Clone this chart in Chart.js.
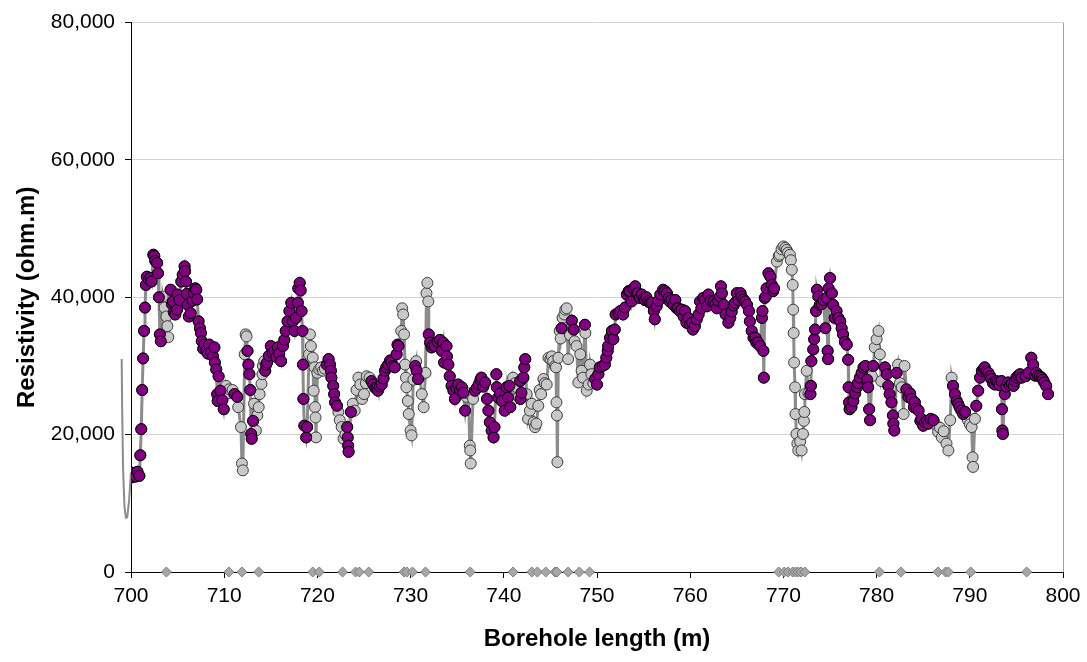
<!DOCTYPE html>
<html>
<head>
<meta charset="utf-8">
<script src="https://cdn.jsdelivr.net/npm/chart.js@4.4.1/dist/chart.umd.min.js"></script>
<style>
  html, body { margin: 0; padding: 0; background: #ffffff; }
  #wrap { width: 1087px; height: 662px; }
</style>
</head>
<body>
<div id="wrap"><canvas id="c" width="1087" height="662"></canvas></div>
<script>
// Borehole length (m)
const depthM = [
700.0,700.1,700.3,700.5,700.7,700.9,701.0,701.1,701.2,701.3,701.4,701.5,701.6,701.7,701.9,702.1,702.2,702.4,702.5,702.6,702.8,702.9,703.0,703.1,703.2,
703.4,703.6,703.8,703.9,704.0,704.25,704.4,704.5,704.6,704.75,704.95,705.0,705.2,705.4,705.55,705.75,705.8,705.9,706.0,706.1,706.2,706.4,706.6,706.75,706.9,
707.0,707.1,707.25,707.4,707.5,707.6,707.75,707.9,708.1,708.25,708.4,708.6,708.8,708.95,709.0,709.15,709.25,709.3,709.4,709.6,709.8,709.95,
710.2,710.4,710.55,710.9,711.1,711.3,711.4,711.5,711.8,711.9,712.0,712.2,712.3,712.4,712.5,712.6,712.7,712.8,712.9,712.95,713.1,713.2,713.4,713.55,713.7,713.8,
714.0,714.1,714.15,714.3,714.4,714.5,714.6,714.8,715.0,715.2,715.4,715.6,715.75,715.9,716.1,716.3,716.45,716.6,716.8,717.0,717.2,717.35,717.55,717.7,717.9,717.95,
718.1,718.2,718.3,718.4,718.45,718.5,718.6,718.8,718.9,719.1,719.2,719.3,719.5,719.6,719.7,719.75,719.8,719.85,
720.0,720.2,720.4,720.6,720.8,721.0,721.2,721.35,721.45,721.5,721.7,721.8,721.9,722.1,722.25,722.4,722.6,722.8,723.0,723.2,723.25,723.3,723.35,723.6,723.8,
724.0,724.2,724.4,724.6,724.8,725.0,725.2,725.3,725.6,725.8,726.0,726.2,726.4,726.5,726.7,726.9,727.1,727.25,727.4,727.6,727.8,727.95,728.1,728.3,728.5,728.6,728.7,
729.0,729.1,729.2,729.3,729.4,729.5,729.55,729.7,729.8,730.0,730.1,730.3,730.5,730.6,730.65,730.8,731.0,731.2,731.4,731.6,731.7,731.8,731.9,731.95,
732.1,732.25,732.4,732.6,732.9,733.15,733.35,733.5,733.6,733.85,733.9,734.05,734.2,734.4,734.6,734.75,734.9,735.1,735.3,735.5,735.65,735.85,
736.0,736.2,736.35,736.4,736.45,736.7,736.9,737.1,737.3,737.5,737.6,737.8,738.0,738.2,738.35,738.5,738.7,738.9,739.0,739.2,739.25,739.4,739.6,739.8,
740.1,740.3,740.45,740.6,740.7,740.9,741.0,741.2,741.4,741.6,741.75,741.8,741.9,742.1,742.2,742.3,742.45,742.6,742.8,743.0,743.2,743.35,743.5,743.7,743.85,
744.0,744.25,744.4,744.6,744.8,745.0,745.15,745.3,745.5,745.6,745.65,745.7,745.75,745.85,746.0,746.1,746.2,746.3,746.5,746.6,746.75,746.9,
747.1,747.3,747.5,747.6,747.8,748.0,748.2,748.35,748.5,748.7,748.75,748.9,749.1,749.25,749.4,749.6,749.8,
750.0,750.15,750.3,750.6,750.85,751.0,751.15,751.2,751.4,751.6,751.75,751.9,752.0,752.3,752.5,752.8,753.0,753.2,753.4,753.55,753.7,753.9,
754.1,754.25,754.4,754.6,754.8,755.0,755.15,755.3,755.5,755.7,755.9,756.1,756.2,756.4,756.6,756.8,757.1,757.3,757.5,757.7,757.8,
758.0,758.2,758.4,758.55,758.7,758.9,759.1,759.3,759.45,759.6,759.8,760.0,760.2,760.3,760.5,760.7,760.9,761.05,761.2,761.4,761.6,761.8,761.95,
762.2,762.5,762.7,762.85,763.0,763.2,763.3,763.4,763.6,763.8,764.1,764.3,764.45,764.65,764.8,765.0,765.2,765.4,765.5,765.7,765.9,
766.1,766.3,766.4,766.6,766.8,767.0,767.1,767.3,767.5,767.7,767.75,767.85,767.9,768.0,768.1,768.2,768.4,768.6,768.75,768.9,769.0,
769.3,769.5,769.6,769.8,770.0,770.2,770.35,770.5,770.7,770.8,770.9,771.0,771.05,771.1,771.15,771.25,771.3,771.4,771.5,771.6,771.8,771.95,
772.1,772.2,772.25,772.3,772.5,772.7,772.9,772.95,773.0,773.2,773.3,773.4,773.5,773.6,773.75,773.9,774.1,774.3,774.5,774.65,774.75,774.8,774.85,
775.0,775.2,775.35,775.5,775.7,775.9,776.1,776.25,776.4,776.6,776.8,776.95,777.0,777.05,777.1,777.3,777.5,777.7,777.9,
778.0,778.2,778.4,778.6,778.8,779.0,779.1,779.2,779.3,779.5,779.65,779.8,780.0,780.2,780.35,780.5,780.9,
781.1,781.25,781.4,781.6,781.75,781.8,781.9,782.15,782.3,782.5,782.7,782.9,783.0,783.2,783.4,783.6,783.75,784.0,784.1,784.3,784.5,784.7,784.8,
785.0,785.2,785.4,785.55,785.8,786.1,786.3,786.6,786.8,787.0,787.2,787.5,787.7,787.9,788.05,788.2,788.4,788.6,788.75,788.9,789.1,789.3,789.5,789.8,
790.0,790.2,790.3,790.35,790.55,790.7,790.9,791.1,791.3,791.5,791.6,791.8,792.0,792.2,792.3,792.5,792.7,792.85,793.0,793.2,793.4,793.45,793.5,793.55,793.75,793.9,
794.1,794.3,794.5,794.7,794.85,795.0,795.2,795.4,795.55,796.0,796.3,796.6,796.8,797.0,797.15,797.3,797.5,797.7,797.85,798.0,798.2,798.4
];

// Resistivity (ohm.m), one value per depth above
const resistivity = [
14500,13800,14200,13900,14600,14000,17000,20800,26500,31100,35100,38500,41800,43000,42600,42800,42300,46200,46000,45300,45000,43500,40000,34600,33600,
40100,38500,37200,35800,34200,41100,39000,39400,37800,37500,38200,40400,39600,42300,43300,44500,43800,42300,40500,38900,37200,37700,39500,40600,41300,
41100,39700,36500,35500,34800,33600,32500,33100,32200,31800,33100,32000,31400,32700,30500,29500,25900,24900,28500,26400,25000,23700,
27100,26000,26600,26500,25900,25700,25500,24000,21100,15800,14800,31700,34600,34300,32200,30200,28800,26500,20100,19400,22000,24500,20600,22800,24000,25900,
27400,28800,30000,30700,29300,30200,30500,31500,32900,31900,32200,31300,32700,31800,30700,32900,33800,35100,36500,38000,39200,36500,35100,37000,39200,41300,
42100,41000,38000,35100,30200,25200,21300,19600,21100,31700,34600,32900,31200,26400,29800,24000,22500,19600,
29000,29500,29800,29300,29600,30200,31000,30200,29300,28300,27100,25900,24700,24200,23300,22100,21100,19400,20000,21100,19600,18400,17500,23300,24500,
23500,26500,28300,27300,25200,25900,27500,28500,28300,27800,27300,26800,26900,26400,27000,27300,28200,29300,29800,30200,30800,30500,30000,29800,31700,33100,32900,
35100,38400,37500,34600,30200,28300,26900,24900,23000,20600,19900,28000,30000,30700,29300,28100,28500,25900,24000,29000,40600,42100,39400,34600,
33400,32700,33000,32900,33500,33800,32200,33400,30500,32900,31400,30200,28500,27100,26400,25200,26800,27300,26500,26900,26100,23500,
25500,26000,18400,17700,15800,25200,26400,26800,27300,28000,28300,27000,27600,25200,23500,21800,20600,19600,21100,28800,26900,25400,26000,24900,
23500,26900,25400,27100,24000,25000,28300,27500,26900,25500,27800,25200,26100,28300,29800,31000,25900,22300,23500,24500,21800,21100,21600,24200,26500,
25900,28100,27500,27300,31200,31000,31400,30700,30000,29800,24700,22800,16000,31200,35100,34000,35500,37000,37500,38200,38400,31000,
34500,36600,35300,33600,32900,27600,31700,29300,28300,36000,34800,26400,27300,30200,28800,27500,28100,
27300,28800,29800,30000,30200,31200,32200,32900,34100,35100,33900,35300,37500,37700,38000,37500,38500,40400,40900,40900,39400,41300,
41600,40600,40600,39900,40400,39800,39600,40000,39400,39200,39200,38000,36800,38700,39500,40400,41100,40900,40600,39900,39400,
39600,38900,39600,38400,38400,38000,38200,37200,38000,36300,37000,36000,36300,35300,35800,36800,37500,39400,38400,39900,39600,38700,40400,
39500,39400,39000,38400,39500,40100,41600,40600,38900,37500,36300,37000,37900,38800,39200,40600,39600,40600,40100,39700,39400,
38900,38000,36500,35100,34100,34100,33400,33400,32900,37000,38000,32200,28300,39900,40100,41300,43500,43000,41800,40900,41300,
45200,46000,46200,47000,47400,47200,46900,46500,46200,45400,44000,41800,38200,34800,30500,26900,23000,20100,18700,17700,19000,17700,
20100,22000,23300,25900,29300,26000,25900,27100,30700,32400,33900,35300,38000,41100,40100,38900,39000,39600,35500,39900,32200,31000,41300,
42800,40600,38900,37000,38000,37000,36500,35500,34600,33500,33100,30900,26900,24700,23700,24000,24900,26000,26900,
27500,28300,29000,29800,30000,28000,26900,23700,22100,28500,30000,32700,33900,35100,31700,27800,29800,
28800,27100,25900,24700,22800,21600,20600,29000,30200,27500,26900,23000,30000,26600,25500,26000,25200,24000,24700,23800,23500,22000,22300,
21300,21800,22000,21600,22300,22100,21500,20400,21000,19600,20500,18700,17700,22100,28300,27100,25900,24900,24500,24000,23500,23000,23300,22100,
21500,21100,16700,15300,22300,24200,26400,28300,29300,29600,29800,29200,29000,28500,28100,27500,27300,27800,27600,27200,27800,23700,20600,20100,25900,27000,
27600,27200,27400,27100,27800,28300,28600,28800,28300,28500,29000,31200,30200,28600,29000,28600,28500,28300,28000,27600,27100,25900
];

// 1 = purple (highlighted) sample, 0 = grey sample
const highlighted = [
1,1,1,1,1,1,1,1,1,1,1,1,1,1,1,1,1,1,1,1,1,1,1,1,1,
0,0,0,0,0,1,1,1,1,1,1,1,1,1,1,1,1,1,1,1,1,1,1,1,1,
1,1,1,1,1,1,1,1,1,1,1,1,1,1,1,1,1,1,1,1,1,1,
0,0,0,0,1,0,1,0,0,0,0,0,0,0,1,1,1,1,1,1,1,0,0,0,0,0,
0,0,0,0,1,1,1,1,1,1,1,1,1,1,1,1,1,1,1,1,1,1,1,1,1,1,
1,1,1,1,1,1,1,1,1,0,0,0,0,0,0,0,0,0,
0,0,0,0,0,1,1,1,1,1,1,1,1,1,0,0,0,0,0,1,1,1,1,1,0,
0,0,0,0,0,0,0,0,0,1,1,1,1,1,1,1,1,1,1,1,1,1,1,1,1,1,1,
0,0,0,0,0,0,0,0,0,0,0,0,1,0,1,1,0,0,0,0,0,0,0,1,
1,1,1,1,1,1,1,1,1,1,1,1,1,1,1,1,1,1,1,1,1,1,
0,0,0,0,0,0,1,1,1,1,1,1,1,1,1,1,1,1,1,1,1,1,1,1,
1,1,1,1,1,0,0,0,0,0,1,1,1,1,1,1,0,0,0,0,0,0,0,0,0,
0,0,0,0,0,0,0,0,0,0,0,0,0,0,0,0,1,0,0,0,0,0,
0,1,1,0,0,0,0,0,0,1,0,0,0,0,0,0,1,
1,1,1,1,1,1,1,1,1,1,1,1,1,1,1,1,1,1,1,1,1,1,
1,1,1,1,1,1,1,1,1,1,1,1,1,1,1,1,1,1,1,1,1,
1,1,1,1,1,1,1,1,1,1,1,1,1,1,1,1,1,1,1,1,1,1,1,
1,1,1,1,1,1,1,1,1,1,1,1,1,1,1,1,1,1,1,1,1,
1,1,1,1,1,1,1,1,1,1,1,1,1,1,1,1,1,1,1,1,1,
0,0,0,0,0,0,0,0,0,0,0,0,0,0,0,0,0,0,0,0,0,0,
0,0,0,0,0,0,1,1,1,1,1,1,1,1,1,1,1,1,1,1,1,1,1,
1,1,1,1,1,1,1,1,1,1,1,1,1,1,1,1,1,1,1,
1,1,1,1,1,1,1,1,1,0,1,0,0,0,0,0,1,
1,1,1,1,1,1,1,1,0,0,0,0,0,1,1,1,1,1,1,1,1,1,1,
1,1,1,1,1,1,0,0,0,0,0,0,0,0,0,1,1,1,1,1,1,1,1,0,
0,0,0,0,0,1,1,1,1,1,1,1,1,1,1,1,1,1,1,1,1,1,1,1,1,1,
1,1,1,1,1,1,1,1,1,1,1,1,1,1,1,1,1,1,1,1,1,1
];

// Trace drawn just before 700 m (outside the plot frame)
const preDepthM = [700.0, 699.8, 699.6, 699.45, 699.3, 699.15, 699.05, 699.0];
const preResistivity = [14500, 10500, 8000, 7900, 9500, 15000, 24000, 31000];

// Flagged positions plotted at zero resistivity
const flagDepthM = [703.8,710.5,711.9,713.7,719.5,720.2,722.7,724.1,724.5,725.5,729.3,729.6,730.2,731.6,736.4,741.0,743.0,743.6,744.5,745.5,745.7,746.9,748.1,749.2,
769.5,770.1,770.5,771.0,771.3,771.6,771.9,772.3,780.3,782.6,786.6,787.4,787.7,790.1,796.1];
const flagValue = flagDepthM.map(() => 0);

// Axis tick definitions
const xTicks = [700,710,720,730,740,750,760,770,780,790,800];
const yTicks = [0,20000,40000,60000,80000];

const allPts = depthM.map((d, i) => ({ x: d, y: resistivity[i] }));
const purplePts = depthM.map((d, i) => ({ x: d, y: resistivity[i] })).filter((p, i) => highlighted[i] === 1);
const prePts = preDepthM.map((d, i) => ({ x: d, y: preResistivity[i] }));
const flagPts = flagDepthM.map((d, i) => ({ x: d, y: flagValue[i] }));

const FONT = "'Liberation Sans', Arial, sans-serif";

new Chart(document.getElementById('c'), {
  type: 'scatter',
  data: {
    datasets: [
      {
        label: 'highlighted',
        data: purplePts,
        showLine: false,
        pointRadius: 5.5,
        pointHoverRadius: 5.5,
        pointBackgroundColor: '#800080',
        pointBorderColor: '#000000',
        pointBorderWidth: 1,
        order: 0
      },
      {
        label: 'resistivity',
        data: allPts,
        showLine: true,
        borderColor: '#8c8c8c',
        borderWidth: 3,
        tension: 0,
        pointRadius: 5.5,
        pointHoverRadius: 5.5,
        pointBackgroundColor: '#c8c8c8',
        pointBorderColor: '#3c3c3c',
        pointBorderWidth: 1,
        order: 1
      },
      {
        label: 'pre',
        data: prePts,
        showLine: true,
        borderColor: '#8c8c8c',
        borderWidth: 2,
        pointRadius: 0,
        clip: false,
        order: 2
      },
      {
        label: 'flags',
        data: flagPts,
        showLine: false,
        pointStyle: 'rectRot',
        pointRadius: 5,
        pointHoverRadius: 5,
        pointBackgroundColor: '#a6a6a6',
        pointBorderColor: '#7f7f7f',
        pointBorderWidth: 1,
        clip: false,
        order: 3
      }
    ]
  },
  options: {
    responsive: false,
    devicePixelRatio: 1,
    animation: false,
    events: [],
    layout: { padding: { top: 19, right: 24, left: 0, bottom: 0 } },
    plugins: { legend: { display: false }, tooltip: { enabled: false } },
    scales: {
      x: {
        type: 'linear',
        min: 700, max: 800,
        afterBuildTicks: (s) => { s.ticks = xTicks.map(v => ({ value: v })); },
        afterFit: (s) => { s.height = 90; },
        ticks: { color: '#000', font: { family: FONT, size: 21 }, padding: 6, maxRotation: 0 },
        grid: {
          drawOnChartArea: true,
          color: (ctx) => (ctx.tick && ctx.tick.value === 800) ? '#a0a0a0' : 'rgba(0,0,0,0)',
          tickColor: '#000',
          tickLength: 6
        },
        border: { color: '#000', width: 1 },
        title: { display: true, text: 'Borehole length (m)', color: '#000', font: { family: FONT, size: 24, weight: 'bold' }, padding: { top: 4, bottom: 8 } }
      },
      y: {
        min: 0, max: 80000,
        afterBuildTicks: (s) => { s.ticks = yTicks.map(v => ({ value: v })); },
        afterFit: (s) => { s.width = 131; },
        ticks: { color: '#000', font: { family: FONT, size: 21 }, padding: 10,
                 callback: (v) => Number(v).toLocaleString('en-US') },
        grid: {
          color: (ctx) => (ctx.tick && ctx.tick.value === 0) ? 'rgba(0,0,0,0)' : '#d4d4d4',
          tickColor: '#000',
          tickLength: 6
        },
        border: { color: '#000', width: 1 },
        title: { display: true, text: 'Resistivity (ohm.m)', color: '#000', font: { family: FONT, size: 24, weight: 'bold' }, padding: { top: 13, bottom: 0 } }
      }
    }
  }
});
</script>
</body>
</html>
